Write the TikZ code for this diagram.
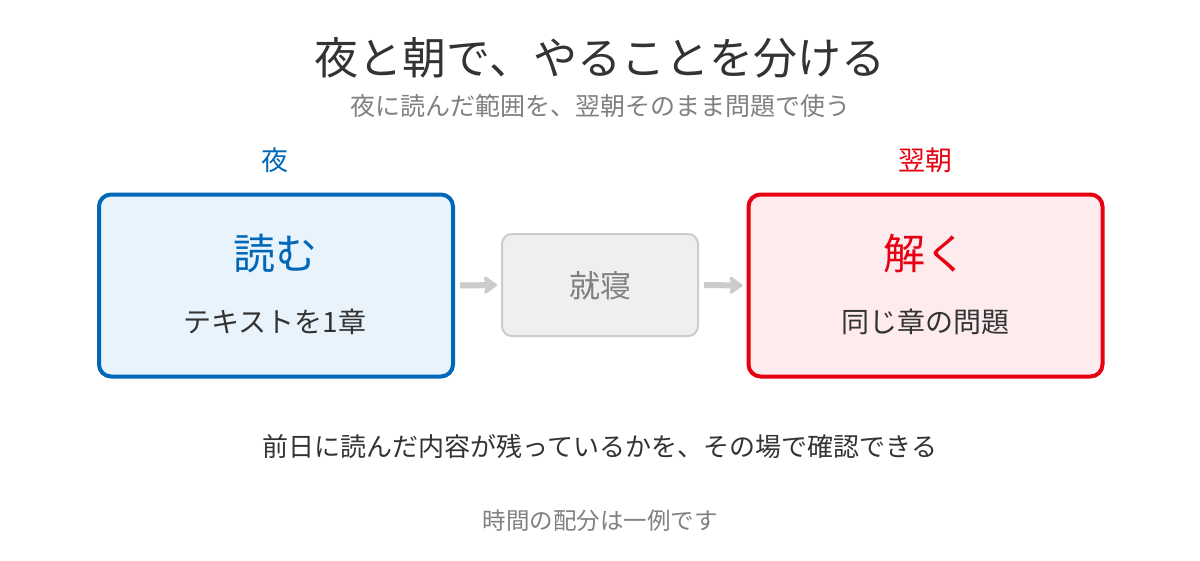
\documentclass[tikz,border=0pt]{standalone}
\usepackage{fontspec}
\setmainfont{Noto Sans CJK JP}
\usetikzlibrary{arrows.meta}
\definecolor{nblue}{HTML}{0068B7}
\definecolor{nbluefill}{HTML}{E9F3FC}
\definecolor{nred}{HTML}{E60012}
\definecolor{nredfill}{HTML}{FDEBEE}
\definecolor{ngray}{HTML}{CCCCCC}
\definecolor{ngrayfill}{HTML}{EFEFEF}
\definecolor{ntext}{HTML}{333333}
\definecolor{nsub}{HTML}{808080}
\tikzset{
  bigbox/.style={draw, line width=4pt, rounded corners=12pt, minimum width=354pt, minimum height=182pt},
  midbox/.style={draw=ngray, fill=ngrayfill, line width=2pt, rounded corners=10pt, minimum width=196pt, minimum height=102pt},
  flowarrow/.style={draw=ngray, line width=6pt, -{Stealth[length=15pt,width=21pt,inset=3pt,round]}},
  txt/.style={inner sep=0pt, anchor=center},
}
\begin{document}
\begin{tikzpicture}[x=1pt,y=-1pt]
\useasboundingbox (0,0) rectangle (1200,560);
\fill[white] (0,0) rectangle (1200,560);
\node[txt, text=ntext, font=\fontsize{44}{48}\selectfont] (title) at (600,58) {夜と朝で、やることを分ける};
\node[txt, text=nsub, font=\fontsize{25}{29}\selectfont] (sub) at (600,106) {夜に読んだ範囲を、翌朝そのまま問題で使う};
\node[txt, text=nblue, font=\fontsize{27}{31}\selectfont] (lnight) at (275,160) {夜};
\node[txt, text=nred, font=\fontsize{27}{31}\selectfont] (lmorn) at (925,160) {翌朝};
\node[bigbox, draw=nblue, fill=nbluefill] (left) at (276,285.5) {};
\node[midbox] (mid) at (600,285) {};
\node[bigbox, draw=nred, fill=nredfill] (right) at (925.5,285.5) {};
\node[txt, text=nblue, font=\fontsize{42}{46}\selectfont] (read) at (275,254) {読む};
\node[txt, text=ntext, font=\fontsize{28}{32}\selectfont] (readsub) at (275,322) {テキストを1章};
\node[txt, text=nsub, font=\fontsize{31}{35}\selectfont] (sleep) at (600,286) {就寝};
\node[txt, text=nred, font=\fontsize{42}{46}\selectfont] (solve) at (925,254) {解く};
\node[txt, text=ntext, font=\fontsize{28}{32}\selectfont] (solvesub) at (925,322) {同じ章の問題};
\draw[flowarrow] ([xshift=5pt]left.east) -- ([xshift=-4pt]mid.west);
\draw[flowarrow] ([xshift=5pt]mid.east) -- ([xshift=-4pt]right.west);
\node[txt, text=ntext, font=\fontsize{26}{30}\selectfont] (note) at (600,447) {前日に読んだ内容が残っているかを、その場で確認できる};
\node[txt, text=nsub, font=\fontsize{23.5}{27}\selectfont] (foot) at (600,521) {時間の配分は一例です};
\end{tikzpicture}
\end{document}
